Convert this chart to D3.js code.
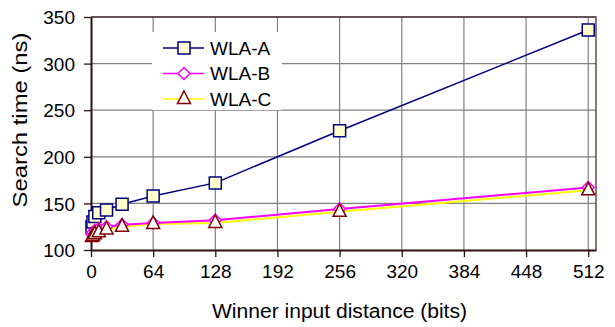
<!DOCTYPE html>
<html>
<head>
<meta charset="utf-8">
<script src="https://cdn.jsdelivr.net/npm/d3@7"></script>
<style>
  body { margin: 0; background: #fff; }
  text { font-family: "Liberation Sans", Arial, sans-serif; fill: #000; }
</style>
</head>
<body>
<script>
// data
var distances = [1, 2, 4, 8, 16, 32, 64, 128, 256, 512];
var wlaA = [125, 130, 136, 140, 143, 149, 158, 172, 228, 336];
var wlaB = [117, 119, 121, 123, 125, 127, 129, 132, 144, 167];
var wlaC = [114, 115, 117, 119, 122, 125, 128, 129, 141, 164];
var xTicks = [0, 64, 128, 192, 256, 320, 384, 448, 512];
var yTicks = [100, 150, 200, 250, 300, 350];
var seriesNames = ["WLA-A", "WLA-B", "WLA-C"];

var width = 615, height = 327;
var plotLeft = 91, plotRight = 596, plotTop = 17, plotBottom = 250;

var series = [
    { name: seriesNames[0], values: wlaA, line: "#000080", stroke: "#000080", fill: "#ffffcc", shape: "square" },
    { name: seriesNames[1], values: wlaB, line: "#ff00ff", stroke: "#ff00ff", fill: "#ffffff", shape: "diamond" },
    { name: seriesNames[2], values: wlaC, line: "#ffff00", stroke: "#800000", fill: "#ffffff", shape: "triangle" }
];

var x = d3.scaleLinear().domain([0, 520]).range([plotLeft, plotRight]);
var y = d3.scaleLinear().domain([100, 350]).range([plotBottom, plotTop]);

var svg = d3.select("body").append("svg")
    .attr("width", width)
    .attr("height", height);

// grid
svg.append("g").selectAll("line")
    .data(yTicks.slice(1))
    .enter().append("line")
    .attr("x1", plotLeft).attr("x2", plotRight)
    .attr("y1", function (d) { return y(d); })
    .attr("y2", function (d) { return y(d); })
    .attr("stroke", "#808080").attr("stroke-width", 1.2);

svg.append("g").selectAll("line")
    .data(xTicks.slice(1))
    .enter().append("line")
    .attr("x1", function (d) { return x(d); })
    .attr("x2", function (d) { return x(d); })
    .attr("y1", plotTop).attr("y2", plotBottom)
    .attr("stroke", "#808080").attr("stroke-width", 1.2);

// frame top/right
svg.append("path")
    .attr("d", "M" + plotLeft + "," + plotTop + "H" + plotRight + "V" + plotBottom)
    .attr("fill", "none")
    .attr("stroke", "#4a3030")
    .attr("stroke-width", 1.3);

// axes
var xAxis = d3.axisBottom(x).tickValues(xTicks).tickSize(7).tickSizeOuter(0);
var yAxis = d3.axisLeft(y).tickValues(yTicks).tickSize(7).tickSizeOuter(0);

var gx = svg.append("g")
    .attr("transform", "translate(0," + plotBottom + ")")
    .call(xAxis);
var gy = svg.append("g")
    .attr("transform", "translate(" + plotLeft + ",0)")
    .call(yAxis);

[gx, gy].forEach(function (g) {
    g.select(".domain").attr("stroke", "#2a1010").attr("stroke-width", 2);
    g.selectAll(".tick line").attr("stroke", "#2a1010").attr("stroke-width", 1.3);
    g.selectAll(".tick text")
        .attr("font-family", "Liberation Sans, Arial, sans-serif")
        .attr("font-size", "19px")
        .attr("fill", "#000");
});
gx.selectAll(".tick text").attr("y", 15).attr("dy", "0.71em");
gy.selectAll(".tick text").attr("x", -16).attr("dy", "0.35em");

// axis titles
svg.append("text")
    .attr("x", 339.5).attr("y", 318)
    .attr("text-anchor", "middle")
    .attr("font-size", "20px")
    .attr("textLength", 255)
    .attr("lengthAdjust", "spacingAndGlyphs")
    .text("Winner input distance (bits)");

svg.append("text")
    .attr("transform", "translate(27,120) rotate(-90)")
    .attr("text-anchor", "middle")
    .attr("font-size", "20px")
    .attr("textLength", 175)
    .attr("lengthAdjust", "spacingAndGlyphs")
    .text("Search time (ns)");

function markerPath(shape) {
    if (shape === "square") return "M-6,-6H6V6H-6Z";
    if (shape === "diamond") return "M0,-6L6,0L0,6L-6,0Z";
    return "M0,-8L6.5,4.5H-6.5Z";
}

var line = d3.line()
    .x(function (d) { return x(d[0]); })
    .y(function (d) { return y(d[1]); });

// lines first (C, B, then A)
series.slice().reverse().forEach(function (s) {
    var pts = distances.map(function (d, i) { return [d, s.values[i]]; });
    svg.append("path")
        .datum(pts)
        .attr("d", line)
        .attr("fill", "none")
        .attr("stroke", s.line)
        .attr("stroke-width", s.shape === "square" ? 1.5 : 2);
});

series.forEach(function (s) {
    var pts = distances.map(function (d, i) { return [d, s.values[i]]; });
    svg.append("g").selectAll("path")
        .data(pts)
        .enter().append("path")
        .attr("transform", function (d) { return "translate(" + x(d[0]) + "," + y(d[1]) + ")"; })
        .attr("d", markerPath(s.shape))
        .attr("fill", s.fill)
        .attr("stroke", s.stroke)
        .attr("stroke-width", 1.5);
});

// legend
var legend = svg.append("g");
legend.append("rect")
    .attr("x", 152).attr("y", 32)
    .attr("width", 130).attr("height", 78)
    .attr("fill", "#fff");

var legendY = d3.scalePoint().domain(seriesNames).range([48, 99]);

series.forEach(function (s) {
    var ly = legendY(s.name);
    legend.append("line")
        .attr("x1", 163).attr("x2", 204)
        .attr("y1", ly).attr("y2", ly)
        .attr("stroke", s.line).attr("stroke-width", 1.5);
    legend.append("path")
        .attr("transform", "translate(184," + ly + ")")
        .attr("d", markerPath(s.shape))
        .attr("fill", s.fill)
        .attr("stroke", s.stroke)
        .attr("stroke-width", 1.5);
    legend.append("text")
        .attr("x", 210).attr("y", ly)
        .attr("dy", "0.36em")
        .attr("font-size", "19px")
        .text(s.name);
});
</script>
</body>
</html>
